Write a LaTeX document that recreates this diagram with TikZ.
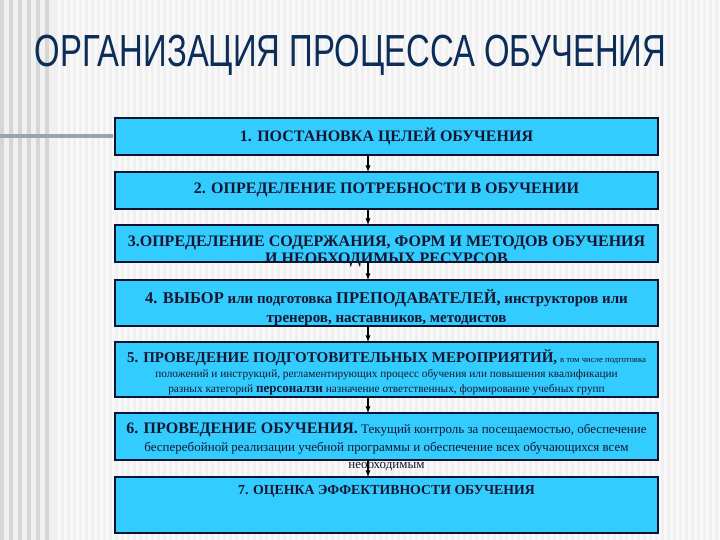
\documentclass[tikz,border=0pt]{standalone}
\usepackage{fontspec}
\setmainfont{Liberation Serif}
\newfontfamily\titlefont[FakeStretch=0.73]{Liberation Sans}
\usepackage{tikz}
\usetikzlibrary{arrows}
\usetikzlibrary{positioning}

\definecolor{skyfill}{RGB}{51,204,255}
\definecolor{boxline}{RGB}{10,20,50}
\definecolor{titleblue}{RGB}{12,45,88}
\definecolor{boxtext}{RGB}{22,22,48}
\definecolor{slidebg}{RGB}{240,240,240}
\definecolor{stripe}{RGB}{249,249,249}
\definecolor{leftstripe}{RGB}{214,214,214}
\definecolor{barblue}{RGB}{150,165,180}

\begin{document}
\begin{tikzpicture}[x=1pt,y=-1pt,
  stepbox/.style={draw=boxline,line width=1.2pt,fill=skyfill,minimum width=543pt,inner sep=0pt,outer sep=0pt,anchor=north},
  steptext/.style={text=boxtext,align=center,anchor=north,inner sep=0pt},
  flow/.style={-latex,line width=1.3pt,black}]
  \useasboundingbox (0,0) rectangle (720,540);
  \fill[slidebg] (0,0) rectangle (720,540);
  \foreach \x in {58,64,...,718} \fill[stripe] (\x,0) rectangle (\x+3,540);
  \foreach \x in {0,9,...,50} \fill[leftstripe] (\x,0) rectangle (\x+4,540);
  \fill[barblue] (0,134) rectangle (113,138);

  \node[anchor=base,inner sep=0pt,text=titleblue,font=\titlefont\fontsize{45}{50}\selectfont] (title) at (350.5,67) {ОРГАНИЗАЦИЯ ПРОЦЕССА ОБУЧЕНИЯ};

  \node[stepbox,minimum height=37pt] (s1) at (386.5,118) {};
  \node[stepbox,minimum height=37pt,below=17pt of s1] (s2) {};
  \node[stepbox,minimum height=37pt,below=16pt of s2] (s3) {};
  \node[stepbox,minimum height=46pt,below=18pt of s3] (s4) {};
  \node[stepbox,minimum height=55pt,below=16pt of s4] (s5) {};
  \node[stepbox,minimum height=47pt,below=16pt of s5] (s6) {};
  \node[stepbox,minimum height=56pt,below=17pt of s6] (s7) {};

  \coordinate (ax) at (368,0);
  \draw[flow] (s1.south -| ax) -- (s2.north -| ax);
  \draw[flow] (s2.south -| ax) -- (s3.north -| ax);
  \draw[flow] (s3.south -| ax) -- (s4.north -| ax);
  \draw[flow] (s4.south -| ax) -- (s5.north -| ax);
  \draw[flow] (s5.south -| ax) -- (s6.north -| ax);
  \draw[flow] (s6.south -| ax) -- (s7.north -| ax);

  \node[steptext,font=\bfseries\fontsize{16}{17}\selectfont] (t1) at ([yshift=-10pt]s1.north) {1. ПОСТАНОВКА ЦЕЛЕЙ ОБУЧЕНИЯ};
  \node[steptext,font=\bfseries\fontsize{16}{17}\selectfont] (t2) at ([yshift=-11pt]s2.north) {2. ОПРЕДЕЛЕНИЕ ПОТРЕБНОСТИ В ОБУЧЕНИИ};
  \node[steptext,font=\bfseries\fontsize{16}{17}\selectfont] (t3) at ([yshift=-11pt]s3.north) {3.ОПРЕДЕЛЕНИЕ СОДЕРЖАНИЯ, ФОРМ И МЕТОДОВ ОБУЧЕНИЯ\\И НЕОБХОДИМЫХ РЕСУРСОВ};
  \node[steptext,font=\bfseries\fontsize{15}{19}\selectfont] (t4) at ([yshift=-9pt]s4.north) {{\fontsize{16.5}{19}\selectfont 4. ВЫБОР} или подготовка {\fontsize{16.5}{19}\selectfont ПРЕПОДАВАТЕЛЕЙ,} инструкторов или\\тренеров, наставников, методистов};
  \node[steptext,font=\fontsize{11.3}{15}\selectfont] (t5) at ([yshift=-8pt]s5.north) {{\bfseries\fontsize{15}{15}\selectfont 5. ПРОВЕДЕНИЕ ПОДГОТОВИТЕЛЬНЫХ МЕРОПРИЯТИЙ,} {\fontsize{8.7}{15}\selectfont в том числе подготовка}\\положений и инструкций, регламентирующих процесс обучения или повышения квалификации\\разных категорий {\bfseries\fontsize{13}{15}\selectfont персоналзи} назначение ответственных, формирование учебных групп};
  \node[steptext,font=\fontsize{13}{17.5}\selectfont] (t6) at ([yshift=-10pt]s6.north) {{\bfseries\fontsize{16}{17.5}\selectfont 6. ПРОВЕДЕНИЕ ОБУЧЕНИЯ.} Текущий контроль за посещаемостью, обеспечение\\бесперебойной реализации учебной программы и обеспечение всех обучающихся всем\\необходимым};
  \node[steptext,font=\bfseries\fontsize{13.8}{17}\selectfont] (t7) at ([yshift=-8pt]s7.north) {7. ОЦЕНКА ЭФФЕКТИВНОСТИ ОБУЧЕНИЯ};
\end{tikzpicture}
\end{document}
